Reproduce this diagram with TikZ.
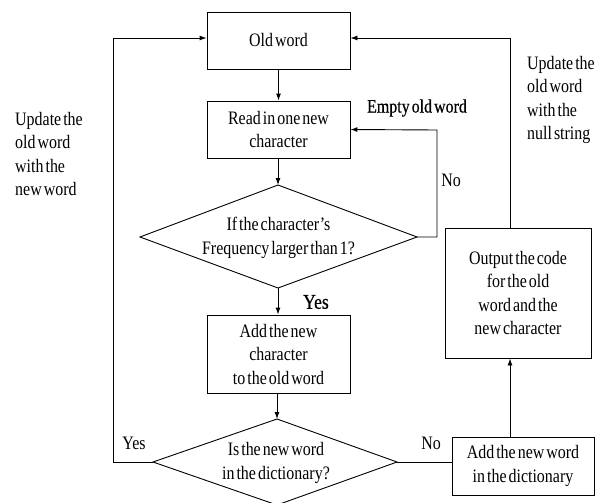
\documentclass[tikz,border=0pt]{standalone}
\usepackage{fontspec}
\setmainfont[FakeStretch=0.84,WordSpace=0.5]{Liberation Serif}
\newfontfamily\heavyish[FakeStretch=0.84,WordSpace=0.5,FakeBold=0.5]{Liberation Serif}
\usetikzlibrary{arrows.meta}
\begin{document}
\begin{tikzpicture}[x=1pt,y=-1pt,
  font=\fontsize{19}{23.5}\selectfont,
  box/.style={draw,line width=0.9pt,rectangle,align=center,inner sep=0pt},
  txt/.style={align=center,inner sep=0pt},
  arr/.style={line width=0.9pt,-{Latex[length=7pt,width=5pt]}},
  ln/.style={line width=0.9pt},
  lbl/.style={inner sep=0pt,align=left}]
\useasboundingbox (0,0) rectangle (602,503);
\node[box,minimum width=143pt,minimum height=57pt] (old) at (278.5,40.5) {Old word};
\node[box,minimum width=143pt,minimum height=57pt] (read) at (278.5,129.5) {Read in one new\\character};
% decision 1
\coordinate (d1t) at (278,185);
\coordinate (d1l) at (140,237);
\coordinate (d1r) at (417,237);
\coordinate (d1b) at (278,288);
\draw[ln] (d1t) -- (d1r) -- (d1b) -- (d1l) -- cycle;
\node[txt] (d1) at (278.5,238) {If the character's\\Frequency larger than 1?};
\node[box,minimum width=143pt,minimum height=78pt] (add) at (278.5,354) {Add the new\\character\\to the old word};
% decision 2
\coordinate (d2t) at (277,419);
\coordinate (d2l) at (153,462);
\coordinate (d2r) at (397,462);
\coordinate (d2b) at (277,505);
\draw[ln] (d2t) -- (d2r) -- (d2b) -- (d2l) -- cycle;
\node[txt] (d2) at (276,463) {Is the new word\\in the dictionary?};
\node[box,minimum width=142pt,minimum height=58pt] (dict) at (523,466) {Add the new word\\in the dictionary};
\node[box,minimum width=146pt,minimum height=130pt] (out) at (518,293) {Output the code\\for the old\\word and the\\new character};
\coordinate (yl) at (113,38);
\coordinate (nx) at (437,130);
\coordinate (ry) at (510,38);
\draw[arr] (old) -- (read);
\draw[arr] (read.south -| d1t) -- (d1t);
\draw[arr] (d1b) -- (add.north -| d1b);
\draw[arr] (add.south -| d2t) -- (d2t);
\draw[arr] (d2l) -| (yl) -- (yl -| old.west);
\draw[arr] (d1r) -| (nx) -- (read.east);
\draw[ln] (d2r) -- (d2r -| dict.west);
\draw[arr] (dict.north -| ry) -- (out.south -| ry);
\draw[arr] (out.north -| ry) -- (ry) -- (ry -| old.east);
\node[lbl,font=\heavyish\fontsize{19}{23.5}\selectfont] (lempty) at (417,108) {Empty old word};
\node[lbl] (lno1) at (451,180) {No};
\node[lbl,font=\heavyish\fontsize{21}{24}\selectfont] (lyes1) at (316,302) {Yes};
\node[lbl] (lyes2) at (134,443) {Yes};
\node[lbl] (lno2) at (431,443) {No};
\node[lbl,anchor=north west] (lleft) at (15,112) {Update the\\old word\\with the\\new word};
\node[lbl,anchor=north west] (lright) at (527,56) {Update the\\old word\\with the\\null string};
\end{tikzpicture}
\end{document}
